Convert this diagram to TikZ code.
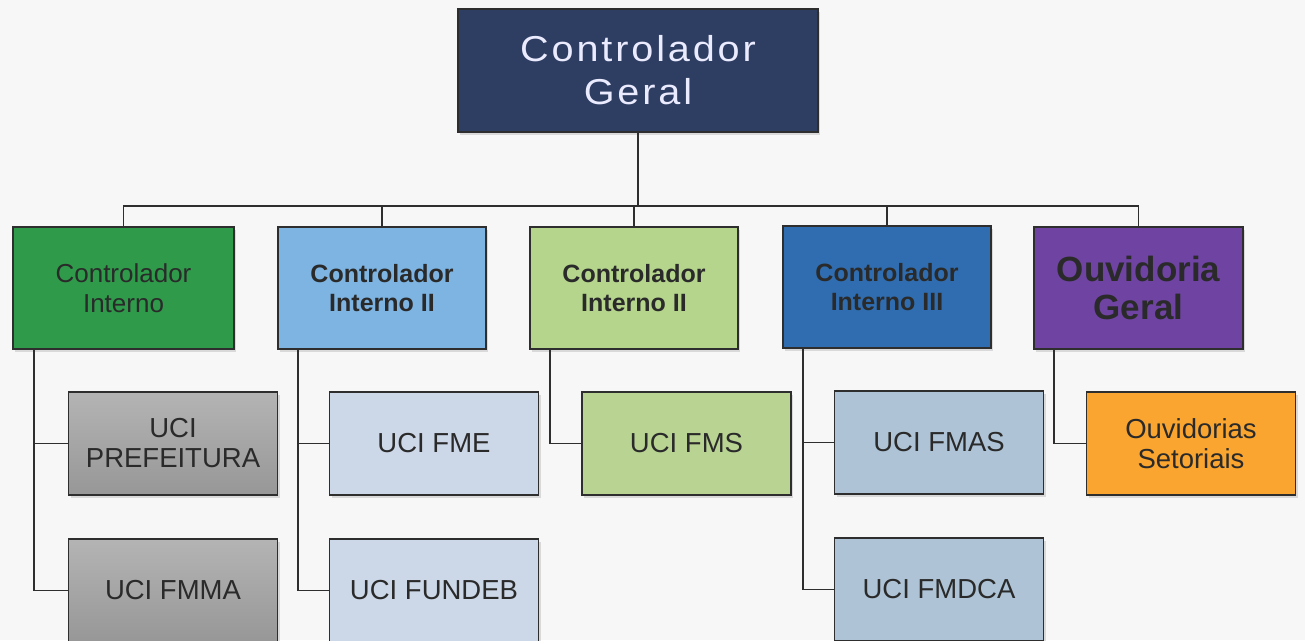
\documentclass[tikz,border=0pt]{standalone}
\usepackage{fontspec}
\setmainfont{Liberation Sans}
\newfontfamily\widefont[LetterSpace=8,FakeStretch=1.1]{Liberation Sans}
\usetikzlibrary{shadows}
\definecolor{bg}{HTML}{F7F7F7}
\definecolor{navy}{HTML}{2E3D62}
\definecolor{cgreen}{HTML}{2E9A4A}
\definecolor{clblue}{HTML}{7DB4E2}
\definecolor{clgreen}{HTML}{B5D48C}
\definecolor{cblue}{HTML}{2F6DB0}
\definecolor{cpurple}{HTML}{6E43A2}
\definecolor{graytop}{HTML}{B4B4B4}
\definecolor{graybot}{HTML}{979797}
\definecolor{paleblue}{HTML}{CCD7E8}
\definecolor{palegreen}{HTML}{B8D392}
\definecolor{steel}{HTML}{AEC4D6}
\definecolor{corange}{HTML}{F9A52F}
\definecolor{txt}{HTML}{2A2A2A}
\definecolor{edge}{HTML}{2E2E2E}
\tikzset{
  box/.style={draw=edge, line width=1.8pt, inner sep=0pt, align=center, text=txt,
    drop shadow={opacity=0.25, shadow xshift=2pt, shadow yshift=-3pt}},
  lvltwo/.style={box, minimum width=208pt, minimum height=122pt},
  sub/.style={box, minimum width=209pt, minimum height=103pt,
    font=\fontsize{27.5}{30}\selectfont},
  link/.style={draw=edge, line width=1.8pt}
}
\begin{document}
\begin{tikzpicture}[x=1pt, y=-1pt]
\useasboundingbox (0,0) rectangle (1305,640);
\fill[bg] (0,0) rectangle (1305,640);
\clip (0,0) rectangle (1305,640);

\node[box, fill=navy, minimum width=360pt, minimum height=123pt, text={white!92!blue},
  font=\widefont\fontsize{36}{43}\selectfont] (top) at (638,70.5) {Controlador\\Geral};

\node[lvltwo, fill=cgreen, minimum width=221pt, font=\fontsize{26}{30}\selectfont] (c1) at (123.5,288) {Controlador\\Interno};
\node[lvltwo, fill=clblue, font=\bfseries\fontsize{25}{29}\selectfont] (c2) at (382,288) {Controlador\\Interno II};
\node[lvltwo, fill=clgreen, font=\bfseries\fontsize{25}{29}\selectfont] (c3) at (634,288) {Controlador\\Interno II};
\node[lvltwo, fill=cblue, font=\bfseries\fontsize{25}{29}\selectfont] (c4) at (887,287) {Controlador\\Interno III};
\node[lvltwo, fill=cpurple, minimum width=209pt, font=\bfseries\fontsize{35}{38}\selectfont] (c5) at (1138.5,288) {Ouvidoria\\Geral};

\node[sub, top color=graytop, bottom color=graybot] (u1) at (173,443.5) {UCI\\PREFEITURA};
\node[sub, top color=graytop, bottom color=graybot] (u2) at (173,590.5) {UCI FMMA};
\node[sub, fill=paleblue] (u3) at (434,443.5) {UCI FME};
\node[sub, fill=paleblue] (u4) at (434,590.5) {UCI FUNDEB};
\node[sub, fill=palegreen] (u5) at (686.5,443.5) {UCI FMS};
\node[sub, fill=steel] (u6) at (939,442.5) {UCI FMAS};
\node[sub, fill=steel] (u7) at (939,589.5) {UCI FMDCA};
\node[sub, fill=corange] (u8) at (1191,443.5) {Ouvidorias\\Setoriais};

\coordinate (bar) at (638,206);
\draw[link] (top.south) -- (top.south |- bar);
\draw[link] (c1.north) -- (c1.north |- bar) -- (c5.north |- bar) -- (c5.north);
\draw[link] (c2.north) -- (c2.north |- bar);
\draw[link] (c3.north) -- (c3.north |- bar);
\draw[link] (c4.north) -- (c4.north |- bar);

\draw[link] ([xshift=22pt]c1.south west) |- (u1.west);
\draw[link] ([xshift=22pt]c1.south west) |- (u2.west);
\draw[link] ([xshift=21pt]c2.south west) |- (u3.west);
\draw[link] ([xshift=21pt]c2.south west) |- (u4.west);
\draw[link] ([xshift=21pt]c3.south west) |- (u5.west);
\draw[link] ([xshift=21pt]c4.south west) |- (u6.west);
\draw[link] ([xshift=21pt]c4.south west) |- (u7.west);
\draw[link] ([xshift=21pt]c5.south west) |- (u8.west);
\end{tikzpicture}
\end{document}
